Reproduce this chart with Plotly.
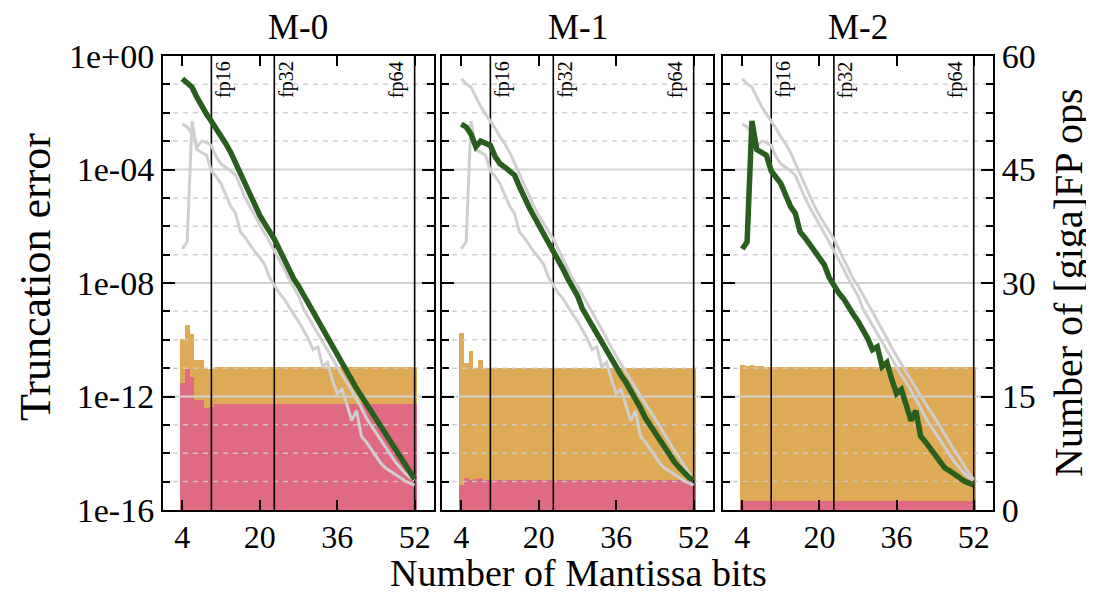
import plotly.graph_objects as go

# ---------------- data ----------------
models = ["M-0", "M-1", "M-2"]
bits = [4, 5, 6, 7, 8, 9, 10, 11, 12, 13, 14, 15, 16, 17, 18, 19, 20, 21, 22, 23,
        24, 25, 26, 27, 28, 29, 30, 31, 32, 33, 34, 35, 36, 37, 38, 39, 40, 41, 42,
        43, 44, 45, 46, 47, 48, 49, 50, 51, 52]

# truncation error, stored as log10 exponents
log_err_m0 = [-0.80, -0.98, -1.10, -1.45, -1.78, -2.05, -2.30, -2.55, -2.85, -3.10,
              -3.40, -3.78, -4.15, -4.55, -4.95, -5.30, -5.62, -5.90, -6.15, -6.45,
              -6.80, -7.15, -7.52, -7.85, -8.10, -8.40, -8.72, -9.02, -9.33, -9.65,
              -9.95, -10.28, -10.58, -10.88, -11.15, -11.42, -11.72, -11.98, -12.25, -12.50,
              -12.78, -13.05, -13.35, -13.62, -13.90, -14.15, -14.42, -14.70, -14.92]
log_err_m1 = [-2.40, -2.50, -2.75, -3.20, -3.00, -3.05, -3.15, -3.55, -3.80, -3.92,
              -4.05, -4.20, -4.60, -5.00, -5.33, -5.65, -5.95, -6.25, -6.55, -6.85,
              -7.15, -7.50, -7.85, -8.15, -8.45, -8.90, -9.20, -9.50, -9.80, -10.05,
              -10.35, -10.65, -10.95, -11.25, -11.50, -11.78, -12.10, -12.40, -12.75, -13.02,
              -13.28, -13.55, -13.82, -14.08, -14.30, -14.50, -14.70, -14.85, -14.95]
log_err_m2 = [-6.80, -6.55, -2.29, -3.30, -3.40, -3.50, -4.05, -4.25, -4.50, -4.90,
              -5.30, -5.55, -6.20, -6.40, -6.65, -6.90, -7.10, -7.35, -7.80, -8.10,
              -8.35, -8.55, -8.85, -9.10, -9.35, -9.65, -9.95, -10.35, -10.25, -10.95,
              -10.80, -11.40, -11.90, -11.75, -12.30, -12.85, -12.50, -13.40, -13.60, -13.85,
              -14.10, -14.35, -14.52, -14.62, -14.72, -14.85, -14.98, -15.06, -15.12]

# [giga]FP ops, stacked: red (bottom) and orange (top)
ops_red_m0 = [16.8, 18.6, 17.6, 14.6, 14.6, 13.5, 13.6, 14.0, 14.0, 14.0,
              14.0, 14.0, 14.0, 14.0, 14.0, 14.0, 14.0, 14.0, 14.0, 14.0,
              14.0, 14.0, 14.0, 14.0, 14.0, 14.0, 14.0, 14.0, 14.0, 14.0,
              14.0, 14.0, 14.0, 14.0, 14.0, 14.0, 14.0, 14.0, 14.0, 14.0,
              14.0, 14.0, 14.0, 14.0, 14.0, 14.0, 14.0, 14.0, 14.0]
ops_orange_m0 = [5.8, 5.9, 5.7, 5.2, 5.2, 5.1, 5.1, 4.85, 4.85, 4.85,
                 4.85, 4.85, 4.85, 4.85, 4.85, 4.85, 4.85, 4.85, 4.85, 4.85,
                 4.85, 4.85, 4.85, 4.85, 4.85, 4.85, 4.85, 4.85, 4.85, 4.85,
                 4.85, 4.85, 4.85, 4.85, 4.85, 4.85, 4.85, 4.85, 4.85, 4.85,
                 4.85, 4.85, 4.85, 4.85, 4.85, 4.85, 4.85, 4.85, 4.85]
ops_red_m1 = [3.3, 4.2, 4.0, 4.1, 4.2, 4.0, 4.0, 4.0, 4.0, 4.0,
              4.0, 4.0, 4.0, 4.0, 4.0, 4.0, 4.0, 4.0, 4.0, 4.0,
              4.0, 4.0, 4.0, 4.0, 4.0, 4.0, 4.0, 4.0, 4.0, 4.0,
              4.0, 4.0, 4.0, 4.0, 4.0, 4.0, 4.0, 4.0, 4.0, 4.0,
              4.0, 4.0, 4.0, 4.0, 4.0, 4.0, 4.0, 4.0, 4.0]
ops_orange_m1 = [20.1, 15.2, 17.0, 14.7, 15.6, 14.8, 14.8, 14.8, 14.8, 14.8,
                 14.8, 14.8, 14.8, 14.8, 14.8, 14.8, 14.8, 14.8, 14.8, 14.8,
                 14.8, 14.8, 14.8, 14.8, 14.8, 14.8, 14.8, 14.8, 14.8, 14.8,
                 14.8, 14.8, 14.8, 14.8, 14.8, 14.8, 14.8, 14.8, 14.8, 14.8,
                 14.8, 14.8, 14.8, 14.8, 14.8, 14.8, 14.8, 14.8, 14.8]
ops_red_m2 = [1.2, 1.2, 1.2, 1.2, 1.2, 1.2, 1.2, 1.2, 1.2, 1.2,
              1.2, 1.2, 1.2, 1.2, 1.2, 1.2, 1.2, 1.2, 1.2, 1.2,
              1.2, 1.2, 1.2, 1.2, 1.2, 1.2, 1.2, 1.2, 1.2, 1.2,
              1.2, 1.2, 1.2, 1.2, 1.2, 1.2, 1.2, 1.2, 1.2, 1.2,
              1.2, 1.2, 1.2, 1.2, 1.2, 1.2, 1.2, 1.2, 1.2]
ops_orange_m2 = [17.9, 17.8, 17.9, 17.8, 17.8, 17.7, 17.7, 17.7, 17.7, 17.7,
                 17.7, 17.7, 17.7, 17.7, 17.7, 17.7, 17.7, 17.7, 17.7, 17.7,
                 17.7, 17.7, 17.7, 17.7, 17.7, 17.7, 17.7, 17.7, 17.7, 17.7,
                 17.7, 17.7, 17.7, 17.7, 17.7, 17.7, 17.7, 17.7, 17.7, 17.7,
                 17.7, 17.7, 17.7, 17.7, 17.7, 17.7, 17.7, 17.7, 17.7]

x_ticks = [4, 20, 36, 52]
x_range = [0, 56]
err_major = [1e0, 1e-4, 1e-8, 1e-12, 1e-16]
err_labels = ["1e+00", "1e-04", "1e-08", "1e-12", "1e-16"]
err_minor = [1e-1, 1e-2, 1e-3, 1e-5, 1e-6, 1e-7, 1e-9, 1e-10, 1e-11,
             1e-13, 1e-14, 1e-15]
err_inner_major = [1e-4, 1e-8, 1e-12]
ops_ticks = [0, 15, 30, 45, 60]
ops_minor = [3.75, 7.5, 11.25, 18.75, 22.5, 26.25, 33.75, 37.5, 41.25,
             48.75, 52.5, 56.25]
fp_bits = [10, 23, 52]
fp_labels = ["fp16", "fp32", "fp64"]

# ---------------- style ----------------
FONT = "Liberation Serif"
RED = "#E06A82"
ORANGE = "#DEAA55"
GREEN = "#285E1E"
GRAY = "#CFCFCF"
GRID_MINOR = "rgba(205,205,205,0.9)"
GRID_MAJOR = "#D2D2D2"
FP_LABEL_SHIFT = [12, 12, -18]

# page body has an 8px margin: place the figure so the plot lands where the reference has it
OFF = 8
FIG_W, FIG_H = 1094 - OFF, 593 - OFF
PL, PR, PT, PB = 163 - OFF, FIG_W - (993 - OFF), 56 - OFF, FIG_H - (510 - OFF)
PLOT_W = FIG_W - PL - PR
PLOT_H = FIG_H - PT - PB

errs = [[10 ** v for v in log_err_m0],
        [10 ** v for v in log_err_m1],
        [10 ** v for v in log_err_m2]]
reds = [ops_red_m0, ops_red_m1, ops_red_m2]
oranges = [ops_orange_m0, ops_orange_m1, ops_orange_m2]

domains = [[0.0, 0.3265], [0.3361, 0.6627], [0.6747, 1.0]]

fig = go.Figure()
layout = dict(
    width=FIG_W, height=FIG_H, autosize=False,
    margin=dict(l=PL, r=PR, t=PT, b=PB, pad=0),
    plot_bgcolor="white", paper_bgcolor="white",
    barmode="stack", bargap=0,
    showlegend=False,
    font=dict(family=FONT, color="black", size=30),
    hovermode=False,
)
annotations = []

for i in range(3):
    xa = "x" if i == 0 else f"x{i + 1}"
    ylin = "y" if i == 0 else f"y{2 * i + 1}"
    ylog = f"y{2 * i + 2}"

    # stacked bars on linear (right) axis
    fig.add_trace(go.Bar(x=bits, y=reds[i], width=1, marker=dict(color=RED, line=dict(width=0)),
                         xaxis=xa, yaxis=ylin))
    fig.add_trace(go.Bar(x=bits, y=oranges[i], width=1, marker=dict(color=ORANGE, line=dict(width=0)),
                         xaxis=xa, yaxis=ylin))

    # gridlines drawn above bars
    gx, gy = [], []
    for d in err_minor:
        gx += [x_range[0], x_range[1], None]
        gy += [d, d, None]
    fig.add_trace(go.Scatter(x=gx, y=gy, mode="lines",
                             line=dict(color=GRID_MINOR, width=1.5, dash="5px,5px"),
                             xaxis=xa, yaxis=ylog))
    gx, gy = [], []
    for d in err_inner_major:
        gx += [x_range[0], x_range[1], None]
        gy += [d, d, None]
    fig.add_trace(go.Scatter(x=gx, y=gy, mode="lines",
                             line=dict(color=GRID_MAJOR, width=2),
                             xaxis=xa, yaxis=ylog))

    # fp16/fp32/fp64 reference lines
    vx, vy = [], []
    for b in fp_bits:
        vx += [b, b, None]
        vy += [err_major[-1], err_major[0], None]
    fig.add_trace(go.Scatter(x=vx, y=vy, mode="lines",
                             line=dict(color="black", width=1.6),
                             xaxis=xa, yaxis=ylog))

    # other models in gray, this model in green
    for j in range(3):
        if j != i:
            fig.add_trace(go.Scatter(x=bits, y=errs[j], mode="lines",
                                     line=dict(color=GRAY, width=3),
                                     xaxis=xa, yaxis=ylog))
    fig.add_trace(go.Scatter(x=bits, y=errs[i], mode="lines",
                             line=dict(color=GREEN, width=5.5),
                             xaxis=xa, yaxis=ylog))

    xkey = "xaxis" if i == 0 else f"xaxis{i + 1}"
    linkey = "yaxis" if i == 0 else f"yaxis{2 * i + 1}"
    logkey = f"yaxis{2 * i + 2}"

    layout[xkey] = dict(domain=domains[i], range=x_range, anchor=ylin, automargin=False,
                        tickmode="array", tickvals=x_ticks,
                        ticks="inside", ticklen=10, tickwidth=2, tickcolor="black",
                        ticklabelstandoff=-2,
                        showline=True, linecolor="black", linewidth=2, mirror="ticks",
                        showgrid=False, zeroline=False,
                        tickfont=dict(size=32, family=FONT))
    layout[linkey] = dict(domain=[0, 1], range=[0, 60], anchor=xa, side="right", automargin=False,
                          tickmode="array", tickvals=ops_ticks,
                          ticks="inside", ticklen=12, tickwidth=2, tickcolor="black",
                          minor=dict(tickmode="array", tickvals=ops_minor, ticks="inside",
                                     ticklen=7, tickwidth=1.5, tickcolor="black", showgrid=False),
                          showline=True, linecolor="black", linewidth=2,
                          showgrid=False, zeroline=False,
                          showticklabels=(i == 2),
                          tickfont=dict(size=34, family=FONT))
    layout[logkey] = dict(type="log", range=[-16, 0], anchor=xa, overlaying=ylin, side="left",
                          automargin=False,
                          tickmode="array", tickvals=err_major, ticktext=err_labels,
                          ticks="inside", ticklen=12, tickwidth=2, tickcolor="black",
                          minor=dict(tickmode="array", tickvals=err_minor, ticks="inside",
                                     ticklen=7, tickwidth=1.5, tickcolor="black", showgrid=False),
                          showline=True, linecolor="black", linewidth=2,
                          showgrid=False, zeroline=False,
                          showticklabels=(i == 0),
                          tickfont=dict(size=34, family=FONT))

    # panel title
    annotations.append(dict(text=models[i], xref="paper", yref="paper",
                            x=(domains[i][0] + domains[i][1]) / 2, y=1,
                            xanchor="center", yanchor="bottom", yshift=7,
                            showarrow=False, font=dict(size=35, family=FONT)))
    # fp labels
    for b, lab, sh in zip(fp_bits, fp_labels, FP_LABEL_SHIFT):
        annotations.append(dict(text=lab, xref=xa, yref=f"{ylog} domain",
                                x=b, y=1, xanchor="center", yanchor="top",
                                xshift=sh, yshift=-3, textangle=-90,
                                showarrow=False, font=dict(size=20, family=FONT)))

annotations.append(dict(text="Number of Mantissa bits", xref="paper", yref="paper",
                        x=0.5, y=0, xanchor="center", yanchor="bottom", yshift=-86,
                        showarrow=False, font=dict(size=38, family=FONT)))
annotations.append(dict(text="Truncation error", xref="paper", yref="paper",
                        x=(35 - 163) / PLOT_W, y=1 - (277 - 56) / PLOT_H,
                        xanchor="center", yanchor="middle",
                        textangle=-90, showarrow=False, font=dict(size=44, family=FONT)))
annotations.append(dict(text="Number of [giga]FP ops", xref="paper", yref="paper",
                        x=(1068 - 163) / PLOT_W, y=1 - (283 - 56) / PLOT_H,
                        xanchor="center", yanchor="middle",
                        textangle=-90, showarrow=False, font=dict(size=40, family=FONT)))

layout["annotations"] = annotations
fig.update_layout(**layout)
fig.update_traces(hoverinfo="skip")

fig.write_html("out.html")
